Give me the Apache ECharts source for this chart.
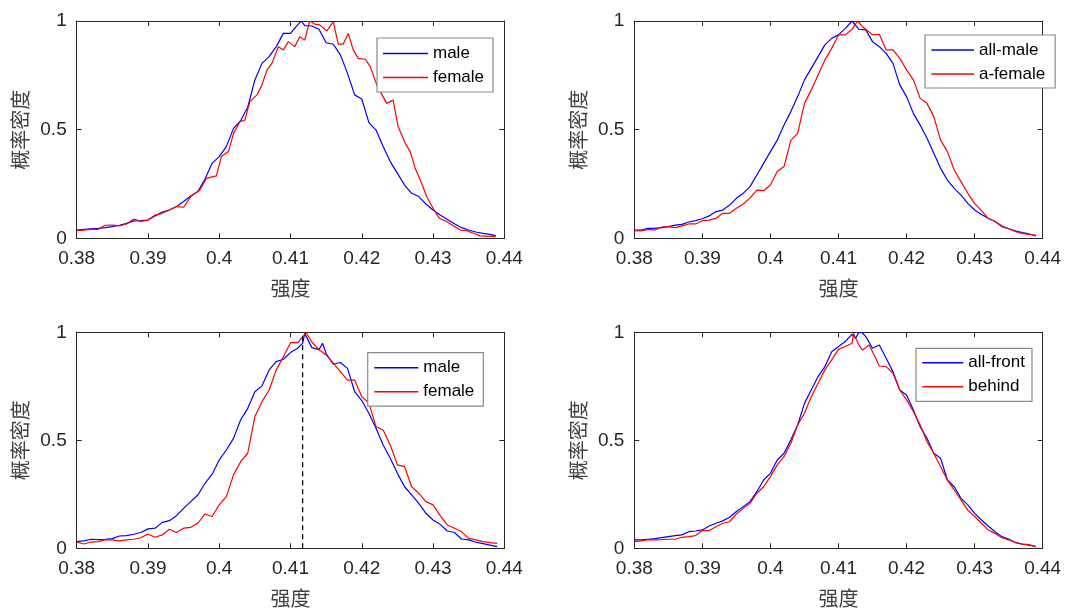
<!DOCTYPE html>
<html>
<head>
<meta charset="utf-8">
<script src="https://cdn.jsdelivr.net/npm/echarts@6/dist/echarts.min.js"></script>
<style>
  html, body { margin: 0; padding: 0; background: #fff; }
  #chart { width: 1087px; height: 611px; }
</style>
</head>
<body>
<div id="chart"></div>
<script>
// Axis ranges and tick labels shared by the four panels
const xTicks = [0.38, 0.39, 0.40, 0.41, 0.42, 0.43, 0.44];
const yTicks = [0, 0.5, 1];
const xName = '强度';
const yName = '概率密度';

// Panel legends
const namesTL = ['male', 'female'];
const namesTR = ['all-male', 'a-female'];
const namesBL = ['male', 'female'];
const namesBR = ['all-front', 'behind'];

// Normalised probability density, [strength, density]
const maleTL = [[0.380,0.038],[0.381,0.041],[0.382,0.044],[0.383,0.046],[0.384,0.049],[0.385,0.054],[0.386,0.060],[0.387,0.069],[0.388,0.080],[0.389,0.081],[0.390,0.084],[0.391,0.103],[0.392,0.121],[0.393,0.130],[0.394,0.146],[0.395,0.169],[0.396,0.195],[0.397,0.215],[0.398,0.273],[0.399,0.345],[0.400,0.376],[0.401,0.422],[0.402,0.506],[0.403,0.541],[0.404,0.603],[0.405,0.729],[0.406,0.805],[0.407,0.836],[0.408,0.882],[0.409,0.943],[0.410,0.943],[0.411,0.982],[0.4115,1.0],[0.412,0.979],[0.413,0.977],[0.414,0.962],[0.415,0.900],[0.416,0.893],[0.417,0.844],[0.418,0.759],[0.419,0.660],[0.420,0.641],[0.421,0.532],[0.422,0.498],[0.423,0.422],[0.424,0.353],[0.425,0.299],[0.426,0.245],[0.427,0.207],[0.428,0.192],[0.429,0.158],[0.430,0.130],[0.431,0.107],[0.432,0.087],[0.433,0.067],[0.434,0.049],[0.435,0.038],[0.436,0.029],[0.437,0.023],[0.438,0.018],[0.4388,0.011]];
const femaleTL = [[0.380,0.035],[0.381,0.038],[0.382,0.041],[0.383,0.041],[0.384,0.060],[0.385,0.061],[0.386,0.057],[0.387,0.066],[0.388,0.089],[0.389,0.078],[0.390,0.084],[0.391,0.107],[0.392,0.115],[0.393,0.130],[0.394,0.146],[0.395,0.143],[0.396,0.192],[0.3973,0.222],[0.3982,0.276],[0.3996,0.287],[0.4003,0.376],[0.4013,0.399],[0.4020,0.483],[0.4029,0.537],[0.4036,0.544],[0.4043,0.629],[0.4053,0.660],[0.4060,0.706],[0.4067,0.775],[0.4074,0.805],[0.4083,0.882],[0.4090,0.867],[0.4097,0.905],[0.4106,0.882],[0.4113,0.928],[0.4120,0.912],[0.4127,1.0],[0.4134,0.986],[0.4141,0.982],[0.4151,0.954],[0.4160,0.997],[0.4167,0.894],[0.4174,0.894],[0.4181,0.943],[0.4188,0.867],[0.4195,0.828],[0.4205,0.824],[0.4212,0.790],[0.4221,0.706],[0.4235,0.621],[0.4244,0.636],[0.4251,0.514],[0.4261,0.437],[0.4268,0.399],[0.4275,0.322],[0.4284,0.253],[0.4291,0.192],[0.4300,0.138],[0.4309,0.092],[0.4319,0.077],[0.4329,0.057],[0.4338,0.038],[0.4347,0.035],[0.4357,0.023],[0.4366,0.011],[0.4388,0.008]];

const maleTR = [[0.380,0.038],[0.381,0.038],[0.382,0.046],[0.383,0.046],[0.384,0.049],[0.385,0.054],[0.386,0.061],[0.387,0.064],[0.388,0.075],[0.389,0.081],[0.390,0.090],[0.391,0.103],[0.392,0.123],[0.393,0.130],[0.394,0.153],[0.395,0.184],[0.396,0.207],[0.397,0.238],[0.398,0.291],[0.399,0.345],[0.400,0.399],[0.401,0.452],[0.402,0.521],[0.403,0.583],[0.404,0.652],[0.405,0.729],[0.406,0.782],[0.407,0.836],[0.408,0.890],[0.409,0.920],[0.410,0.936],[0.411,0.966],[0.412,1.0],[0.413,0.962],[0.414,0.959],[0.415,0.905],[0.416,0.882],[0.417,0.851],[0.418,0.805],[0.419,0.706],[0.420,0.652],[0.421,0.575],[0.422,0.521],[0.423,0.460],[0.424,0.391],[0.425,0.322],[0.426,0.268],[0.427,0.230],[0.428,0.199],[0.429,0.161],[0.430,0.130],[0.431,0.110],[0.432,0.092],[0.433,0.077],[0.434,0.054],[0.435,0.044],[0.436,0.034],[0.437,0.026],[0.438,0.020],[0.439,0.011]];
const femaleTR = [[0.380,0.035],[0.381,0.034],[0.382,0.041],[0.383,0.038],[0.384,0.051],[0.385,0.054],[0.386,0.049],[0.387,0.057],[0.388,0.066],[0.389,0.066],[0.390,0.081],[0.391,0.084],[0.392,0.092],[0.393,0.115],[0.394,0.115],[0.395,0.138],[0.396,0.158],[0.397,0.185],[0.398,0.222],[0.399,0.219],[0.400,0.245],[0.401,0.307],[0.402,0.330],[0.403,0.451],[0.404,0.483],[0.405,0.621],[0.406,0.683],[0.407,0.752],[0.408,0.821],[0.409,0.874],[0.410,0.936],[0.411,0.936],[0.412,0.962],[0.4128,1.0],[0.4135,0.975],[0.414,0.962],[0.415,0.936],[0.416,0.939],[0.417,0.867],[0.418,0.867],[0.419,0.828],[0.420,0.775],[0.421,0.729],[0.422,0.644],[0.423,0.621],[0.424,0.560],[0.425,0.452],[0.426,0.399],[0.427,0.314],[0.428,0.261],[0.429,0.207],[0.430,0.161],[0.431,0.127],[0.432,0.092],[0.433,0.077],[0.434,0.058],[0.435,0.044],[0.436,0.031],[0.437,0.023],[0.438,0.018],[0.439,0.014]];

const maleBL = [[0.380,0.031],[0.381,0.034],[0.382,0.042],[0.383,0.040],[0.384,0.042],[0.385,0.045],[0.386,0.057],[0.387,0.059],[0.388,0.065],[0.389,0.073],[0.390,0.090],[0.391,0.093],[0.392,0.120],[0.393,0.128],[0.394,0.151],[0.395,0.185],[0.396,0.216],[0.397,0.247],[0.398,0.301],[0.399,0.343],[0.400,0.409],[0.401,0.455],[0.402,0.509],[0.403,0.594],[0.404,0.648],[0.405,0.725],[0.406,0.752],[0.407,0.826],[0.408,0.864],[0.409,0.875],[0.410,0.906],[0.411,0.926],[0.4117,0.949],[0.412,0.995],[0.413,0.929],[0.414,0.920],[0.4145,0.949],[0.415,0.901],[0.416,0.852],[0.417,0.860],[0.418,0.833],[0.419,0.725],[0.420,0.684],[0.421,0.625],[0.422,0.556],[0.423,0.478],[0.424,0.417],[0.425,0.347],[0.426,0.285],[0.427,0.247],[0.428,0.208],[0.429,0.162],[0.430,0.131],[0.431,0.111],[0.432,0.080],[0.433,0.073],[0.434,0.043],[0.435,0.039],[0.436,0.028],[0.437,0.022],[0.438,0.015],[0.439,0.008]];
const femaleBL = [[0.380,0.028],[0.381,0.020],[0.382,0.029],[0.383,0.031],[0.384,0.039],[0.385,0.039],[0.386,0.034],[0.387,0.039],[0.388,0.042],[0.389,0.049],[0.390,0.066],[0.391,0.051],[0.392,0.062],[0.393,0.088],[0.394,0.073],[0.395,0.093],[0.396,0.097],[0.397,0.116],[0.398,0.159],[0.399,0.147],[0.400,0.201],[0.401,0.239],[0.402,0.340],[0.403,0.401],[0.404,0.440],[0.405,0.610],[0.406,0.679],[0.407,0.733],[0.408,0.826],[0.409,0.887],[0.410,0.952],[0.411,0.952],[0.4122,0.998],[0.413,0.955],[0.414,0.920],[0.415,0.895],[0.416,0.857],[0.417,0.818],[0.418,0.779],[0.419,0.779],[0.420,0.702],[0.421,0.673],[0.422,0.563],[0.423,0.548],[0.424,0.478],[0.425,0.386],[0.426,0.378],[0.427,0.285],[0.428,0.255],[0.429,0.216],[0.430,0.201],[0.431,0.151],[0.432,0.108],[0.433,0.093],[0.434,0.077],[0.435,0.046],[0.436,0.039],[0.437,0.031],[0.438,0.026],[0.439,0.023]];
const peakBL = 0.4117;

const frontBR = [[0.380,0.039],[0.381,0.039],[0.382,0.042],[0.383,0.045],[0.384,0.049],[0.385,0.054],[0.386,0.059],[0.387,0.062],[0.388,0.077],[0.389,0.080],[0.390,0.085],[0.391,0.103],[0.392,0.116],[0.393,0.127],[0.394,0.144],[0.395,0.170],[0.396,0.193],[0.397,0.216],[0.398,0.262],[0.399,0.316],[0.400,0.347],[0.401,0.409],[0.402,0.440],[0.403,0.502],[0.404,0.571],[0.405,0.671],[0.406,0.733],[0.407,0.795],[0.408,0.841],[0.409,0.910],[0.410,0.934],[0.411,0.957],[0.412,0.992],[0.4125,0.972],[0.413,1.0],[0.4135,0.998],[0.414,0.980],[0.415,0.926],[0.416,0.941],[0.417,0.880],[0.418,0.818],[0.419,0.733],[0.420,0.710],[0.421,0.640],[0.422,0.563],[0.423,0.509],[0.424,0.440],[0.425,0.417],[0.426,0.316],[0.427,0.285],[0.428,0.231],[0.429,0.201],[0.430,0.162],[0.431,0.131],[0.432,0.103],[0.433,0.077],[0.434,0.054],[0.435,0.043],[0.436,0.026],[0.437,0.019],[0.438,0.015],[0.439,0.008]];
const behindBR = [[0.380,0.031],[0.381,0.034],[0.382,0.039],[0.383,0.039],[0.384,0.040],[0.385,0.042],[0.386,0.042],[0.387,0.051],[0.388,0.054],[0.389,0.059],[0.390,0.082],[0.391,0.082],[0.392,0.100],[0.393,0.116],[0.394,0.123],[0.395,0.159],[0.396,0.185],[0.397,0.208],[0.398,0.255],[0.399,0.285],[0.400,0.332],[0.401,0.386],[0.402,0.424],[0.403,0.486],[0.404,0.571],[0.405,0.625],[0.406,0.702],[0.407,0.764],[0.408,0.826],[0.409,0.872],[0.410,0.921],[0.411,0.934],[0.412,0.949],[0.4122,0.995],[0.413,0.941],[0.4135,0.918],[0.414,0.929],[0.4145,0.941],[0.415,0.910],[0.416,0.844],[0.417,0.841],[0.418,0.810],[0.419,0.733],[0.420,0.687],[0.421,0.633],[0.422,0.571],[0.423,0.494],[0.424,0.440],[0.425,0.378],[0.426,0.316],[0.427,0.270],[0.428,0.224],[0.429,0.177],[0.430,0.147],[0.431,0.116],[0.432,0.085],[0.433,0.069],[0.434,0.049],[0.435,0.039],[0.436,0.028],[0.437,0.019],[0.438,0.017],[0.439,0.008]];

const BLUE = '#0000ff';
const RED = '#ff0000';
const INK = '#262626';
const LATIN = '"Liberation Sans", Arial, Helvetica, sans-serif';
const CJK = '"Noto Sans CJK SC", "Noto Sans", sans-serif';

// Plot boxes of the 2x2 layout
const panels = [
  { grid: { left: 76.7, top: 21, width: 427.6, height: 217.3 },
    names: namesTL, lines: [maleTL, femaleTL],
    legend: { left: 377, top: 38, itemWidth: 45, padding: [7, 9, 6, 6] } },
  { grid: { left: 634.3, top: 21, width: 408.4, height: 217.3 },
    names: namesTR, lines: [maleTR, femaleTR],
    legend: { left: 925, top: 35, itemWidth: 42.5, padding: [6.5, 10, 5.5, 6.5] } },
  { grid: { left: 76.7, top: 332.3, width: 427.6, height: 216 },
    names: namesBL, lines: [maleBL, femaleBL], marker: peakBL,
    legend: { left: 367.7, top: 352.7, itemWidth: 44, padding: [6.5, 9, 6, 6.6] } },
  { grid: { left: 634.3, top: 332.3, width: 408.4, height: 216 },
    names: namesBR, lines: [frontBR, behindBR],
    legend: { left: 916, top: 348.3, itemWidth: 41, padding: [6, 7, 6, 6.3] } }
];

const fmt = v => String(parseFloat(v.toFixed(3)));

const grids = [], xAxes = [], yAxes = [], series = [], legends = [];

panels.forEach((p, i) => {
  grids.push(Object.assign({ containLabel: false, show: false }, p.grid));

  const axisLine = { show: true, onZero: false, lineStyle: { color: INK, width: 1 } };
  const axisTick = { show: true, inside: true, length: 5, lineStyle: { color: INK, width: 1 } };

  // bottom axis with labels, top mirror with ticks only
  xAxes.push({
    type: 'value', gridIndex: i, position: 'bottom',
    min: xTicks[0], max: xTicks[xTicks.length - 1], interval: 0.01,
    axisLine, axisTick, splitLine: { show: false },
    axisLabel: { color: INK, fontSize: 19, fontFamily: LATIN, margin: 11, formatter: fmt },
    name: xName, nameLocation: 'middle', nameGap: 40,
    nameTextStyle: { color: '#404040', fontSize: 20, fontFamily: CJK }
  });
  xAxes.push({
    type: 'value', gridIndex: i, position: 'top',
    min: xTicks[0], max: xTicks[xTicks.length - 1], interval: 0.01,
    axisLine, axisTick, splitLine: { show: false }, axisLabel: { show: false }
  });

  yAxes.push({
    type: 'value', gridIndex: i, position: 'left',
    min: yTicks[0], max: yTicks[yTicks.length - 1], interval: 0.5,
    axisLine, axisTick, splitLine: { show: false },
    axisLabel: { color: INK, fontSize: 19, fontFamily: LATIN, margin: 10, formatter: fmt },
    name: yName, nameLocation: 'middle', nameGap: 46,
    nameTextStyle: { color: '#404040', fontSize: 20, fontFamily: CJK }
  });
  yAxes.push({
    type: 'value', gridIndex: i, position: 'right',
    min: yTicks[0], max: yTicks[yTicks.length - 1], interval: 0.5,
    axisLine, axisTick, splitLine: { show: false }, axisLabel: { show: false }
  });

  p.lines.forEach((data, k) => {
    series.push({
      type: 'line', name: p.names[k], data,
      xAxisIndex: 2 * i, yAxisIndex: 2 * i,
      symbol: 'none', showSymbol: false, silent: true,
      lineStyle: { color: k === 0 ? BLUE : RED, width: 1.2 },
      itemStyle: { color: k === 0 ? BLUE : RED }
    });
  });

  if (p.marker !== undefined) {
    series.push({
      type: 'line', name: 'peak',
      data: [[p.marker, yTicks[0]], [p.marker, yTicks[yTicks.length - 1]]],
      xAxisIndex: 2 * i, yAxisIndex: 2 * i,
      symbol: 'none', silent: true,
      lineStyle: { color: '#000', width: 1.3, type: [5, 4] }
    });
  }

  legends.push({
    data: p.names, orient: 'vertical', left: p.legend.left, top: p.legend.top,
    padding: p.legend.padding, itemGap: 7, itemWidth: p.legend.itemWidth, itemHeight: 1.5,
    icon: 'rect', selectedMode: false,
    backgroundColor: '#fff', borderColor: '#8a8a8a', borderWidth: 1.2, borderRadius: 0,
    textStyle: { color: '#000', fontSize: 17, fontFamily: LATIN, lineHeight: 17, padding: 0 }
  });
});

const chart = echarts.init(document.getElementById('chart'), null, { renderer: 'canvas' });
chart.setOption({
  backgroundColor: '#fff',
  animation: false,
  grid: grids,
  xAxis: xAxes,
  yAxis: yAxes,
  legend: legends,
  series
});
</script>
</body>
</html>
